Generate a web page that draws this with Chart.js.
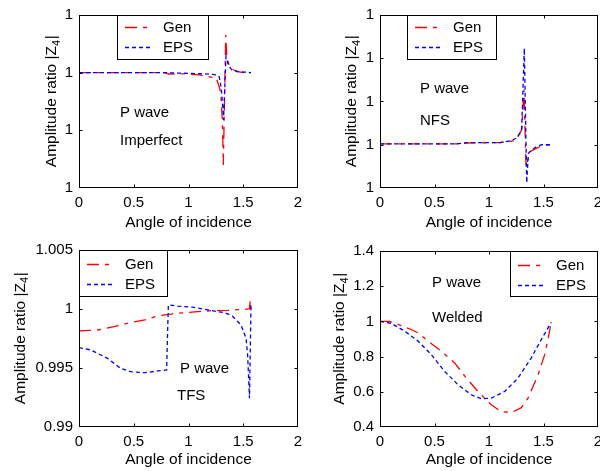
<!DOCTYPE html>
<html lang="en">
<head>
<meta charset="UTF-8">
<title>Amplitude ratio |Z4| against angle of incidence</title>
<script src="https://cdn.jsdelivr.net/npm/chart.js"></script>
<style>
  body { margin: 0; background: #fff; }
  .wrap { position: relative; width: 600px; height: 471px; }
  .wrap canvas { position: absolute; left: 0; top: 0; }
</style>
</head>
<body>
<div class="wrap">
  <canvas id="imp" width="600" height="471"></canvas>
  <canvas id="nfs" width="600" height="471"></canvas>
  <canvas id="tfs" width="600" height="471"></canvas>
  <canvas id="wel" width="600" height="471"></canvas>
</div>
<script>
// --- data (angle in rad, |Z4|) ---
const xTicks = [0, 0.5, 1, 1.5, 2];
const seriesNames = ['Gen', 'EPS'];
const seriesColors = ['#ff0000', '#0000ff'];

// Imperfect interface
const impGenX = [0, 0.4, 0.78, 0.82, 0.95, 1.1, 1.2, 1.25, 1.275, 1.295, 1.31, 1.318, 1.34, 1.35, 1.365, 1.38, 1.41, 1.45, 1.5, 1.571];
const impGenY = [1, 1, 1, 0.99999977, 0.9999998, 0.9999996, 0.99999925, 0.9999992, 0.99999787, 0.99999648, 0.99999128, 0.999984, 1.00000653, 1.0000027, 1.0000017, 1.0000008, 1.0000005, 1.0000002, 1, 1];
const impEpsX = [0, 0.8, 0.95, 1.15, 1.22, 1.26, 1.28, 1.29, 1.30, 1.31, 1.32, 1.342, 1.364, 1.394, 1.44, 1.571];
const impEpsY = [1, 1, 0.9999999, 0.9999998, 0.9999997, 0.9999996, 0.9999993, 0.9999984, 0.999997, 0.9999948, 0.9999918, 1.0000028, 1.0000013, 1.0000005, 1.0000002, 1];

// NFS
const nfsGenX = [0, 0.7, 0.8, 1.1, 1.2, 1.25, 1.28, 1.30, 1.321, 1.34, 1.376, 1.407, 1.468, 1.53, 1.571];
const nfsGenY = [1.0000002, 1.0000002, 1.0000004, 1.0000005, 1.0000008, 1.0000011, 1.0000025, 1.0000035, 1.0000127, 0.9999949, 0.9999984, 0.9999988, 0.9999996, 1, 1];
const nfsEpsX = [0, 0.7, 0.8, 1.1, 1.2, 1.25, 1.29, 1.30, 1.324, 1.346, 1.361, 1.39, 1.437, 1.483, 1.571];
const nfsEpsY = [1.0000002, 1.0000002, 1.0000005, 1.0000005, 1.0000009, 1.0000015, 1.000003, 1.0000038, 1.0000223, 0.9999912, 0.999998, 0.9999988, 0.9999996, 1, 1];

// TFS
const tfsGenX = [0, 0.17, 0.32, 0.44, 0.60, 0.72, 0.825, 0.96, 1.085, 1.21, 1.36, 1.51, 1.555, 1.565, 1.571];
const tfsGenY = [0.99814, 0.99822, 0.9985, 0.99879, 0.99907, 0.99941, 0.99955, 0.99969, 0.99977, 0.99986, 0.99989, 0.99997, 1.0, 1.00076, 0.99949];
const tfsEpsX = [0, 0.108, 0.26, 0.38, 0.47, 0.60, 0.72, 0.80, 0.816, 0.90, 1.05, 1.21, 1.33, 1.40, 1.48, 1.526, 1.54, 1.557, 1.571];
const tfsEpsY = [0.99672, 0.99653, 0.99582, 0.99497, 0.99469, 0.9946, 0.99475, 0.99483, 1.00034, 1.00025, 1.00014, 0.99986, 0.99969, 0.99941, 0.99864, 0.99751, 0.9961, 0.99243, 1.00034];

// Welded
const welGenX = [0, 0.089, 0.165, 0.287, 0.349, 0.44, 0.563, 0.685, 0.792, 0.899, 1.021, 1.113, 1.205, 1.297, 1.358, 1.45, 1.511, 1.55, 1.571];
const welGenY = [1.0, 1.0, 0.983, 0.954, 0.935, 0.888, 0.83, 0.764, 0.678, 0.602, 0.526, 0.487, 0.482, 0.51, 0.564, 0.697, 0.811, 0.926, 1.0];
const welEpsX = [0, 0.104, 0.226, 0.349, 0.471, 0.593, 0.716, 0.838, 0.93, 1.021, 1.144, 1.266, 1.388, 1.48, 1.571];
const welEpsY = [1.0, 0.989, 0.945, 0.888, 0.811, 0.716, 0.64, 0.583, 0.56, 0.564, 0.602, 0.678, 0.793, 0.897, 0.995];

const FONT = '"Liberation Sans", Arial, sans-serif';
const W = 600, H = 471;
const DASHES = [[12, 6, 4, 6], [4, 3]];
const LINE_W = 1.3;

function pts(xs, ys) {
  return xs.map((x, i) => ({ x: x, y: ys[i] }));
}

// matlab-ish %g with 4 significant digits
const fmt = v => String(parseFloat(Number(v).toPrecision(4)));

// box, inward ticks, legend, notes and y label
const matlabPlugin = {
  id: 'matlab',
  afterDraw(chart, args, o) {
    const ctx = chart.ctx;
    const a = chart.chartArea;
    const xs = chart.scales.x, ys = chart.scales.y;
    const L = Math.round(a.left) + 0.5, R = Math.round(a.right) - 0.5;
    const T = Math.round(a.top) + 0.5, B = Math.round(a.bottom) - 0.5;
    ctx.save();
    ctx.strokeStyle = '#000';
    ctx.lineWidth = 1;
    ctx.strokeRect(L, T, R - L, B - T);
    ctx.beginPath();
    xs.ticks.forEach(t => {
      const px = Math.round(xs.getPixelForValue(t.value)) + 0.5;
      if (px - L < 2 || R - px < 2) return;
      ctx.moveTo(px, B); ctx.lineTo(px, B - 3);
      ctx.moveTo(px, T); ctx.lineTo(px, T + 3);
    });
    ys.ticks.forEach(t => {
      const py = Math.round(ys.getPixelForValue(t.value)) + 0.5;
      if (py - T < 2 || B - py < 2) return;
      ctx.moveTo(L, py); ctx.lineTo(L + 3, py);
      ctx.moveTo(R, py); ctx.lineTo(R - 3, py);
    });
    ctx.stroke();

    // legend
    const lg = o.legend;
    ctx.fillStyle = '#fff';
    ctx.fillRect(lg.x, lg.y, lg.w, lg.h);
    ctx.strokeStyle = '#000';
    ctx.strokeRect(lg.x + 0.5, lg.y + 0.5, lg.w - 1, lg.h - 1);
    ctx.font = '15px ' + FONT;
    ctx.textAlign = 'left';
    ctx.textBaseline = 'middle';
    seriesNames.forEach((name, i) => {
      const ry = Math.round(lg.y + lg.rows[i]) + 0.5;
      ctx.save();
      ctx.setLineDash(DASHES[i]);
      ctx.strokeStyle = seriesColors[i];
      ctx.lineWidth = LINE_W;
      ctx.beginPath();
      ctx.moveTo(lg.x + 8, ry);
      ctx.lineTo(lg.x + 36, ry);
      ctx.stroke();
      ctx.restore();
      ctx.fillStyle = '#000';
      ctx.fillText(name, lg.x + 46, ry);
    });

    // notes
    ctx.textBaseline = 'alphabetic';
    ctx.fillStyle = '#000';
    o.notes.forEach(n => ctx.fillText(n.text, n.x, n.y));

    // y title with subscript
    ctx.translate(o.yTitleX, (a.top + a.bottom) / 2);
    ctx.rotate(-Math.PI / 2);
    const mainFont = '15.5px ' + FONT, subFont = '11px ' + FONT;
    const s1 = 'Amplitude ratio |Z', s2 = '4', s3 = '|';
    ctx.font = mainFont;
    const w1 = ctx.measureText(s1).width, w3 = ctx.measureText(s3).width;
    ctx.font = subFont;
    const w2 = ctx.measureText(s2).width;
    let x0 = -(w1 + w2 + w3) / 2;
    ctx.font = mainFont;
    ctx.fillText(s1, x0, 0);
    ctx.font = subFont;
    ctx.fillText(s2, x0 + w1, 3.5);
    ctx.font = mainFont;
    ctx.fillText(s3, x0 + w1 + w2 + 0.5, 0);
    ctx.restore();
  }
};

function makePanel(id, p) {
  const yAxisW = 50;
  const lh = 15.5 * 1.2;
  const xBottom = p.xTitleMid + lh / 2;
  new Chart(document.getElementById(id), {
    type: 'line',
    data: {
      datasets: [
        { label: seriesNames[0], data: pts(p.genX, p.genY), borderColor: seriesColors[0], borderWidth: LINE_W,
          borderDash: DASHES[0], pointRadius: 0, tension: 0, order: 2 },
        { label: seriesNames[1], data: pts(p.epsX, p.epsY), borderColor: seriesColors[1], borderWidth: LINE_W,
          borderDash: DASHES[1], pointRadius: 0, tension: 0, order: 1 }
      ]
    },
    options: {
      responsive: false,
      animation: false,
      devicePixelRatio: 1,
      layout: { padding: { left: p.area.l - yAxisW, top: p.area.t, right: W - p.area.r, bottom: H - xBottom } },
      plugins: {
        legend: { display: false },
        tooltip: { enabled: false },
        matlab: { legend: p.legend, notes: p.notes, yTitleX: p.yTitleX }
      },
      scales: {
        x: {
          type: 'linear', min: 0, max: 2,
          afterBuildTicks: s => { s.ticks = xTicks.map(v => ({ value: v })); },
          ticks: { color: '#000', font: { family: FONT, size: 15 }, padding: 6, maxRotation: 0, autoSkip: false,
                   callback: v => String(v) },
          grid: { display: false, drawTicks: false },
          border: { display: false },
          title: { display: true, text: 'Angle of incidence', color: '#000', font: { family: FONT, size: 15.5 }, padding: 0 },
          afterFit: s => { s.height = xBottom - p.area.b; s.paddingLeft = 0; s.paddingRight = 0; }
        },
        y: {
          min: p.yMin, max: p.yMax,
          ticks: { stepSize: p.yStep, color: '#000', font: { family: FONT, size: 15 }, padding: 6, callback: fmt },
          grid: { display: false, drawTicks: false },
          border: { display: false },
          afterFit: s => { s.width = yAxisW; s.paddingTop = 0; s.paddingBottom = 0; }
        }
      }
    },
    plugins: [matlabPlugin]
  });
}

makePanel('imp', {
  area: { l: 79, t: 15, r: 298, b: 188 }, xTitleMid: 222.5,
  yMin: 0.99998, yMax: 1.00001, yStep: 0.00001,
  genX: impGenX, genY: impGenY, epsX: impEpsX, epsY: impEpsY,
  legend: { x: 117, y: 15, w: 92, h: 45, rows: [12, 32] },
  notes: [{ text: 'P wave', x: 120, y: 116.5 }, { text: 'Imperfect', x: 120, y: 144.5 }],
  yTitleX: 56
});

makePanel('nfs', {
  area: { l: 380, t: 15, r: 598, b: 188 }, xTitleMid: 222.5,
  yMin: 0.99999, yMax: 1.00003, yStep: 0.00001,
  genX: nfsGenX, genY: nfsGenY, epsX: nfsEpsX, epsY: nfsEpsY,
  legend: { x: 407, y: 15, w: 90, h: 45, rows: [12, 32] },
  notes: [{ text: 'P wave', x: 420, y: 93 }, { text: 'NFS', x: 420, y: 125 }],
  yTitleX: 356
});

makePanel('tfs', {
  area: { l: 79, t: 250, r: 298, b: 427 }, xTitleMid: 460,
  yMin: 0.99, yMax: 1.005, yStep: 0.005,
  genX: tfsGenX, genY: tfsGenY, epsX: tfsEpsX, epsY: tfsEpsY,
  legend: { x: 79, y: 250, w: 89, h: 47, rows: [14, 34] },
  notes: [{ text: 'P wave', x: 180, y: 373 }, { text: 'TFS', x: 177, y: 400 }],
  yTitleX: 24.5
});

makePanel('wel', {
  area: { l: 380, t: 251, r: 598, b: 427 }, xTitleMid: 460,
  yMin: 0.4, yMax: 1.4, yStep: 0.2,
  genX: welGenX, genY: welGenY, epsX: welEpsX, epsY: welEpsY,
  legend: { x: 510, y: 251, w: 88, h: 46, rows: [14, 34] },
  notes: [{ text: 'P wave', x: 432, y: 286.5 }, { text: 'Welded', x: 432, y: 321.5 }],
  yTitleX: 344
});
</script>
</body>
</html>
